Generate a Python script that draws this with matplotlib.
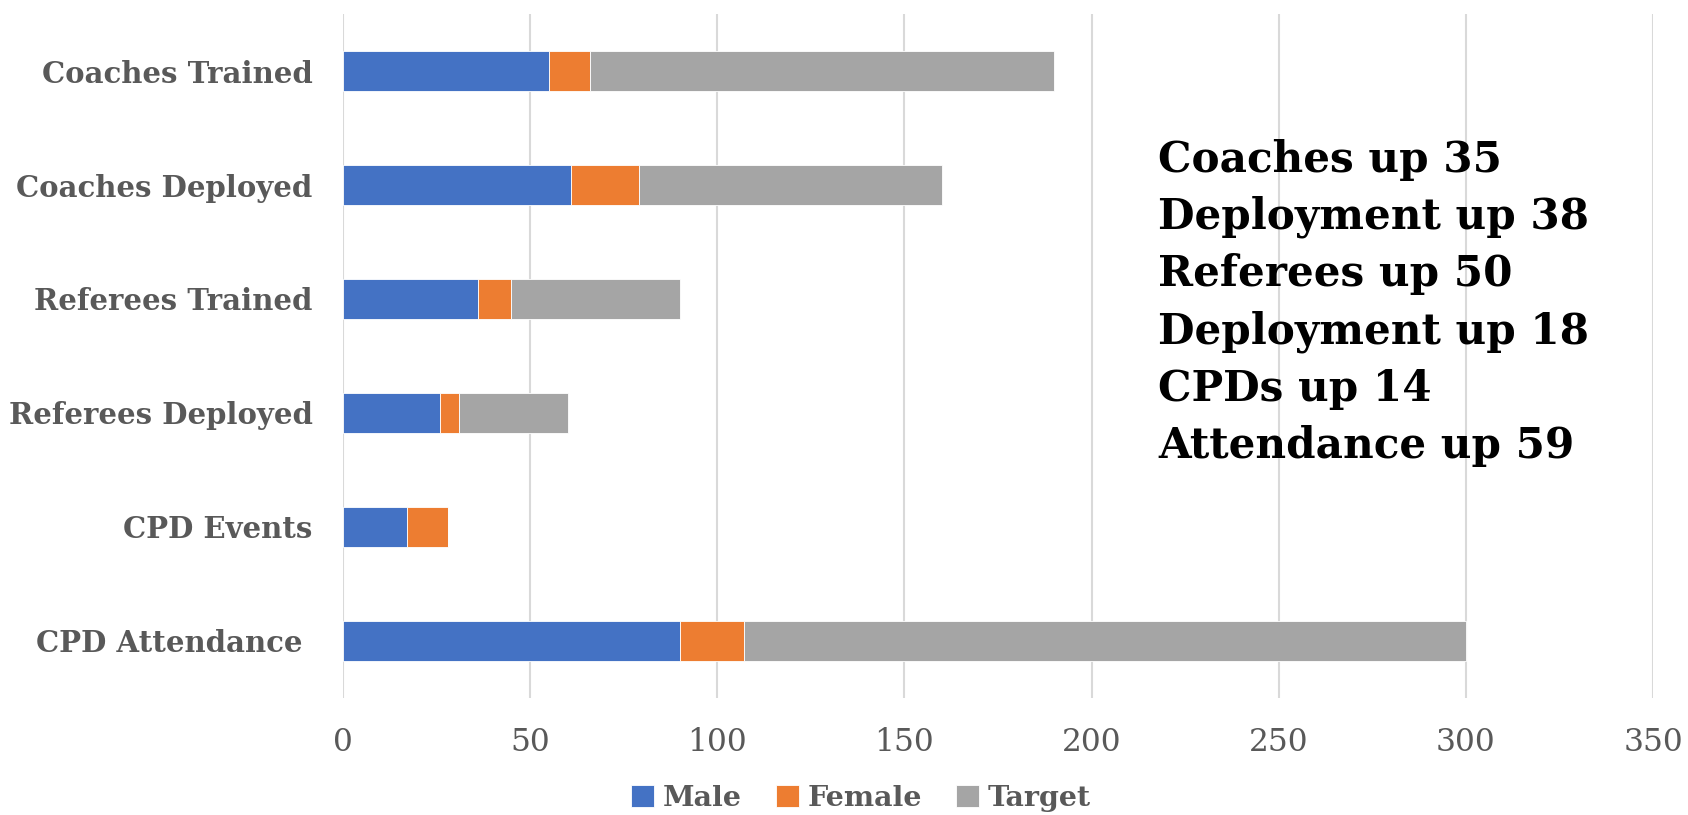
import matplotlib
matplotlib.use("Agg")
import matplotlib.pyplot as plt
import numpy as np

# categories top to bottom
categories = ["Coaches Trained", "Coaches Deployed", "Referees Trained",
              "Referees Deployed", "CPD Events", "CPD Attendance "]
male = [55, 61, 36, 26, 17, 90]
female = [11, 18, 9, 5, 11, 17]
target = [124, 81, 45, 29, 0, 193]

notes = ["Coaches up 35", "Deployment up 38", "Referees up 50",
         "Deployment up 18", "CPDs up 14", "Attendance up 59"]

x_ticks = [0, 50, 100, 150, 200, 250, 300, 350]

plt.rcParams["font.family"] = ["DejaVu Serif"]
grey_text = "#595959"

fig = plt.figure(figsize=(16.88, 8.15), dpi=100)
ax = fig.add_axes([0.2032, 0.1436, 0.7761, 0.8392])

y = np.arange(len(categories))
h = 0.35
left = np.zeros(len(categories))
for vals, col, name in [(male, "#4472C4", "Male"),
                        (female, "#ED7D31", "Female"),
                        (target, "#A5A5A5", "Target")]:
    ax.barh(y, vals, height=h, left=left, color=col, label=name,
            edgecolor="white", linewidth=0.6, zorder=3)
    left = left + np.array(vals)

ax.set_ylim(len(categories) - 0.5, -0.5)
ax.set_xlim(0, 350)
ax.set_yticks(y)
ax.set_yticklabels(categories, fontsize=21, fontweight="bold", color=grey_text)
ax.set_xticks(x_ticks)
ax.set_xticklabels([str(t) for t in x_ticks], fontsize=22.5, color=grey_text)
ax.tick_params(axis="both", length=0)
ax.tick_params(axis="y", pad=22)
ax.tick_params(axis="x", pad=21)
ax.grid(axis="x", color="#D9D9D9", linewidth=1.5, zorder=0)
for s in ax.spines.values():
    s.set_visible(False)

# side notes, one line at a time
for i, line in enumerate(notes):
    fig.text(0.686, 1 - (171.7 + i * 57.3) / 815, line, fontsize=30.3,
             fontweight="bold", color="black", va="baseline", ha="left")

fig.legend(loc="center", bbox_to_anchor=(0.51, 0.02), ncol=3, frameon=False,
           prop={"size": 20.5, "weight": "bold"}, labelcolor=grey_text,
           handlelength=0.8, handleheight=0.8, handletextpad=0.3,
           columnspacing=1.2)

fig.savefig("out.png", dpi=100)
